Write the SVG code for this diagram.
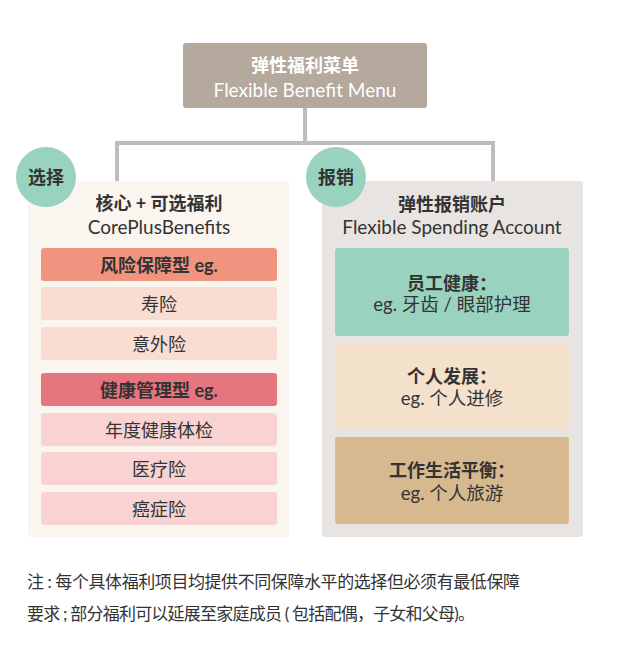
<svg xmlns="http://www.w3.org/2000/svg" width="625" height="662" viewBox="0 0 625 662">
<style>
text{font-family:Lato,"Noto Sans CJK SC",sans-serif;fill:#333;text-anchor:middle;dominant-baseline:central}
.b{font-weight:bold}
.w{fill:#fff}
.t{font-size:18px}
.e{font-size:19px}
.m{font-size:18.5px}
.n{font-size:17px;text-anchor:start}
.conn{stroke:#BDBDC0;stroke-width:4;fill:none}
</style>
<rect width="625" height="662" fill="#fff"/>
<g id="connectors">
<path class="conn" d="M305 108V143M117 143H493M117 141V182M493 141V182"/>
</g>
<g id="root">
<rect x="183" y="43" width="244" height="65" rx="3" fill="#B5A89C"/>
<text x="305" y="65" class="t b w">弹性福利菜单</text>
<text x="305" y="89" class="e w">Flexible Benefit Menu</text>
</g>
<g id="core">
<rect x="28" y="181" width="261" height="356" rx="3" fill="#FAF5EE"/>
<text x="159" y="203" class="t b">核心 + 可选福利</text>
<text x="159" y="226" class="e">CorePlusBenefits</text>
</g>
<g id="core-risk">
<rect x="41" y="248" width="236" height="33" rx="3" fill="#F0947F"/>
<text x="159" y="265" class="t b">风险保障型 eg.</text>
</g>
<g id="core-life">
<rect x="41" y="287" width="236" height="33" rx="3" fill="#FADDD2"/>
<text x="159" y="304" class="t">寿险</text>
</g>
<g id="core-accident">
<rect x="41" y="327" width="236" height="33" rx="3" fill="#FADDD2"/>
<text x="159" y="344" class="t">意外险</text>
</g>
<g id="core-health">
<rect x="41" y="373" width="236" height="33" rx="3" fill="#E7757F"/>
<text x="159" y="390" class="t b">健康管理型 eg.</text>
</g>
<g id="core-checkup">
<rect x="41" y="413" width="236" height="33" rx="3" fill="#F8D3D1"/>
<text x="159" y="430" class="t">年度健康体检</text>
</g>
<g id="core-medical">
<rect x="41" y="452" width="236" height="33" rx="3" fill="#F8D3D1"/>
<text x="159" y="469" class="t">医疗险</text>
</g>
<g id="core-cancer">
<rect x="41" y="492" width="236" height="33" rx="3" fill="#F8D3D1"/>
<text x="159" y="509" class="t">癌症险</text>
</g>
<g id="badge-choose">
<circle cx="46" cy="177" r="30" fill="#99D3C0"/>
<text x="46" y="177" class="t b">选择</text>
</g>
<g id="fsa">
<rect x="322" y="181" width="261" height="356" rx="3" fill="#E8E4E1"/>
<text x="452" y="204" class="t b">弹性报销账户</text>
<text x="452" y="226" class="e">Flexible Spending Account</text>
</g>
<g id="fsa-health">
<rect x="335" y="248" width="234" height="88" rx="3" fill="#99D3C0"/>
<text x="452" y="283" class="t b">员工健康：</text>
<text x="452" y="304" class="m">eg. 牙齿 / 眼部护理</text>
</g>
<g id="fsa-dev">
<rect x="335" y="343" width="234" height="87" rx="3" fill="#F3E1CC"/>
<text x="452" y="376" class="t b">个人发展：</text>
<text x="452" y="398" class="m">eg. 个人进修</text>
</g>
<g id="fsa-balance">
<rect x="335" y="437" width="234" height="87" rx="3" fill="#D7B990"/>
<text x="452" y="470" class="t b">工作生活平衡：</text>
<text x="452" y="493" class="m">eg. 个人旅游</text>
</g>
<g id="badge-claim">
<circle cx="336" cy="177" r="30" fill="#99D3C0"/>
<text x="336" y="177" class="t b">报销</text>
</g>
<g id="note">
<text x="27" y="581" class="n" textLength="493">注 : 每个具体福利项目均提供不同保障水平的选择但必须有最低保障</text>
<text x="27" y="613" class="n" textLength="448">要求 ; 部分福利可以延展至家庭成员 ( 包括配偶，子女和父母)。</text>
</g>
</svg>
